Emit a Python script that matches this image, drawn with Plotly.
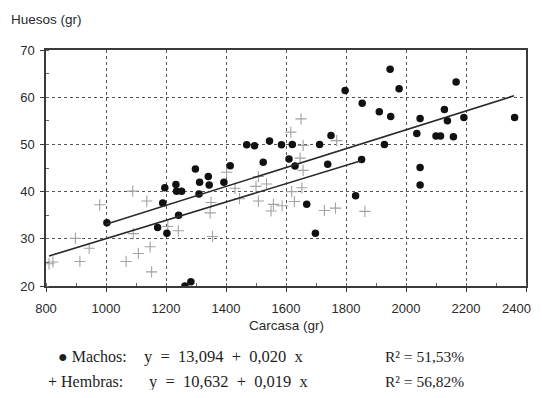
import plotly.graph_objects as go

# ---- data ----
machos_x = [1003, 1172, 1203, 1189, 1196, 1233, 1235, 1252, 1242, 1263, 1283, 1298, 1310,
            1312, 1341, 1344, 1393, 1414, 1469, 1495, 1524, 1545, 1585, 1610, 1621, 1630,
            1669, 1698, 1712, 1739, 1750, 1797, 1832, 1852, 1854, 1911, 1928, 1947, 1949,
            1977, 2036, 2047, 2047, 2047, 2100, 2115, 2128, 2138, 2158, 2167, 2193, 2362]
machos_y = [33.4, 32.4, 31.2, 37.6, 40.8, 41.5, 40.1, 40.1, 35.0, 20.0, 20.9, 44.8, 39.5,
            42.0, 43.2, 41.4, 42.0, 45.5, 49.9, 49.7, 46.2, 50.7, 49.9, 46.9, 50.0, 45.4,
            37.3, 31.2, 50.0, 45.8, 51.9, 61.4, 39.1, 46.8, 58.7, 56.9, 50.0, 65.9, 55.9,
            61.8, 52.3, 55.5, 45.1, 41.4, 51.8, 51.8, 57.4, 55.0, 51.6, 63.2, 55.7, 55.7]

hembras_x = [810, 823, 898, 913, 944, 979, 1067, 1089, 1091, 1108, 1136, 1147, 1152, 1206,
             1241, 1347, 1350, 1355, 1402, 1430, 1445, 1500, 1508, 1508, 1535, 1550, 1558,
             1587, 1619, 1628, 1653, 1657, 1647, 1657, 1616, 1650, 1728, 1765, 1769, 1863]
hembras_y = [24.7, 25.1, 30.1, 25.2, 28.0, 37.2, 25.2, 40.1, 31.1, 26.9, 38.0, 28.3, 23.0, 32.6,
             31.7, 35.5, 37.7, 30.5, 44.1, 40.7, 38.5, 41.1, 38.0, 43.2, 41.6, 35.9, 37.3,
             37.0, 40.0, 37.9, 40.8, 44.5, 47.1, 49.8, 52.6, 55.4, 36.0, 36.5, 50.8, 35.8]

machos_fit = [13.094, 0.020]
hembras_fit = [10.632, 0.0194]
machos_fit_range = [1000, 2360]
hembras_fit_range = [810, 1850]

x_ticks = [800, 1000, 1200, 1400, 1600, 1800, 2000, 2200, 2400]
x_tick_labels = [str(v) for v in x_ticks]
y_ticks = [20, 30, 40, 50, 60, 70]

legend_labels = ["\u25CF Machos:", "+ Hembras:"]
legend_equations = ["y = 13,094 + 0,020 x", "y = 10,632 + 0,019 x"]
legend_r2 = ["R\u00B2 = 51,53%", "R\u00B2 = 56,82%"]
x_title = "Carcasa (gr)"
y_title = "Huesos (gr)"

# ---- figure (page body has an 8px margin; keep the page inside the window) ----
OFF = 8
W, H = 542 - 2 * OFF, 398 - 2 * OFF
L, T = 46 - OFF, 50 - OFF
PR, PB = 526 - OFF, 286 - OFF
R, B = W - PR, H - PB
PW, PH = PR - L, PB - T


def px_x(sx):  # screen x -> paper
    return (sx - OFF - L) / PW


def px_y(sy):  # screen y -> paper
    return (PB - (sy - OFF)) / PH


fig = go.Figure()

fig.add_trace(go.Scatter(
    x=hembras_x, y=hembras_y, mode="markers",
    marker=dict(symbol="cross-thin", size=8, line=dict(color="#a2a2a2", width=1.1)),
    showlegend=False))

fig.add_trace(go.Scatter(
    x=machos_x, y=machos_y, mode="markers",
    marker=dict(symbol="circle", size=7.5, color="#111111", line=dict(width=0)),
    showlegend=False))

for (a, b), rng in ((machos_fit, machos_fit_range), (hembras_fit, hembras_fit_range)):
    fig.add_trace(go.Scatter(
        x=rng, y=[a + b * v for v in rng], mode="lines",
        line=dict(color="#2a2a2a", width=1.6), showlegend=False))

tick_font = dict(family="Liberation Sans, Arial", size=13, color="#2a2a2a")
axis_common = dict(
    showline=True, linecolor="#3a3a3a", linewidth=1.5, mirror=True,
    showgrid=True, gridcolor="#555555", gridwidth=1, griddash="dot",
    ticks="outside", ticklen=4, tickcolor="#3a3a3a", zeroline=False,
    tickfont=tick_font,
)

# the last x label would overflow the page edge; it is drawn right-aligned below
fig.update_xaxes(range=[800, 2400], tickvals=x_ticks,
                 ticktext=x_tick_labels[:-1] + [""], ticklabelstandoff=6,
                 minor=dict(dtick=100, ticks="inside", ticklen=3, tickcolor="#666666", showgrid=False),
                 **axis_common)
fig.update_yaxes(range=[20, 70], tickvals=y_ticks, ticklabelstandoff=3,
                 minor=dict(dtick=5, ticks="inside", ticklen=3, tickcolor="#666666", showgrid=False),
                 **axis_common)

sans = dict(family="Liberation Sans, Arial", size=13.5, color="#2a2a2a")
serif_lab = dict(family="Liberation Serif, Times New Roman", size=16, color="#1e1e1e")
serif_eq = dict(family="Liberation Serif, Times New Roman", size=16.5, color="#1e1e1e")
serif_r2 = dict(family="Liberation Serif, Times New Roman", size=15.5, color="#1e1e1e")

ann = [
    dict(text=y_title, x=px_x(9), y=px_y(20), xanchor="left", font=sans),
    dict(text=x_title, x=px_x(286), y=px_y(325), xanchor="center", font=sans),
    dict(text=x_tick_labels[-1], x=1.0 + (R - 2) / PW, y=px_y(308), xanchor="right",
         borderpad=0, font=tick_font),
]

label_x = [56, 46]
eq_x = [142, 147]
r2_x = [383, 383]
row_y = [356, 381]
for i in range(2):
    eq = legend_equations[i].replace(" ", "\u2002")
    ann.append(dict(text=legend_labels[i], x=px_x(label_x[i]), y=px_y(row_y[i]),
                    xanchor="left", font=serif_lab))
    ann.append(dict(text=eq, x=px_x(eq_x[i]), y=px_y(row_y[i]),
                    xanchor="left", font=serif_eq))
    ann.append(dict(text=legend_r2[i], x=px_x(r2_x[i]), y=px_y(row_y[i]),
                    xanchor="left", font=serif_r2))

for a in ann:
    a.update(xref="paper", yref="paper", yanchor="middle", showarrow=False)

fig.update_layout(
    width=W, height=H, margin=dict(l=L, r=R, t=T, b=B, autoexpand=False),
    paper_bgcolor="white", plot_bgcolor="white",
    annotations=ann,
)

fig.write_html("out.html")
